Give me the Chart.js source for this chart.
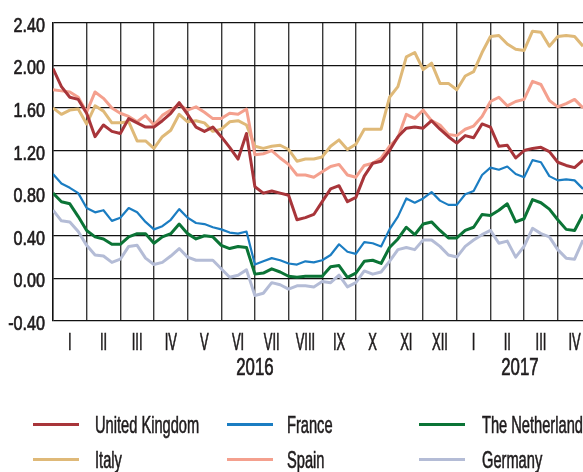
<!DOCTYPE html>
<html>
<head>
<meta charset="utf-8">
<script src="https://cdn.jsdelivr.net/npm/chart.js@4.4.1/dist/chart.umd.min.js"></script>
<style>
  html, body { margin: 0; padding: 0; background: #fff; overflow: hidden; }
  #wrap { position: relative; width: 583px; height: 472px; }
  #legend { position: absolute; left: 0; top: 0; width: 583px; height: 472px; pointer-events: none;
            font-family: "Liberation Sans", Arial, sans-serif; color: #1e1b1c; }
  .swatch { position: absolute; height: 3px; width: 46px; }
  .lbl { position: absolute; font-size: 24px; line-height: 24px; white-space: nowrap;
         -webkit-text-stroke: 0.6px #1e1b1c;
         transform: scaleX(0.61); transform-origin: left top; }
</style>
</head>
<body>
<div id="wrap">
  <canvas id="chart" width="583" height="472"></canvas>
  <div id="legend"></div>
</div>
<script>
// 坐标轴标签
const MONTHS = ['I', 'II', 'III', 'IV', 'V', 'VI', 'VII', 'VIII', 'IX', 'X', 'XI', 'XII', 'I', 'II', 'III', 'IV'];
const YEARS = ['2016', '2017'];
const Y_TICKS = [-0.4, 0, 0.4, 0.8, 1.2, 1.6, 2.0, 2.4];

// 每 1/4 个月取一个点（从 2016 年 1 月初开始）
const UK = [1.97, 1.80, 1.70, 1.68, 1.55, 1.33, 1.44, 1.38, 1.36, 1.50, 1.46, 1.42, 1.42, 1.48, 1.55, 1.65,
            1.54, 1.42, 1.38, 1.42, 1.33, 1.23, 1.12, 1.36, 0.86, 0.80, 0.82, 0.80, 0.78, 0.55, 0.57, 0.60,
            0.72, 0.84, 0.87, 0.72, 0.76, 0.96, 1.08, 1.10, 1.20, 1.33, 1.41, 1.42, 1.41, 1.48, 1.40, 1.33,
            1.27, 1.34, 1.32, 1.45, 1.42, 1.24, 1.25, 1.13, 1.20, 1.22, 1.23, 1.19, 1.09, 1.06, 1.04, 1.11];
const FRANCE = [0.98, 0.89, 0.85, 0.80, 0.66, 0.62, 0.64, 0.54, 0.57, 0.66, 0.62, 0.53, 0.46, 0.49, 0.55, 0.65,
                0.57, 0.52, 0.51, 0.48, 0.46, 0.43, 0.42, 0.44, 0.13, 0.16, 0.19, 0.17, 0.14, 0.13, 0.16, 0.15,
                0.17, 0.22, 0.32, 0.25, 0.23, 0.34, 0.33, 0.30, 0.46, 0.58, 0.75, 0.71, 0.75, 0.81, 0.73, 0.69,
                0.69, 0.79, 0.82, 0.97, 1.04, 1.02, 1.05, 0.98, 0.95, 1.11, 1.09, 0.96, 0.92, 0.93, 0.92, 0.84];
const NETHERLANDS = [0.80, 0.72, 0.70, 0.58, 0.45, 0.39, 0.37, 0.32, 0.32, 0.39, 0.42, 0.42, 0.33, 0.39, 0.42, 0.51,
                     0.42, 0.37, 0.40, 0.39, 0.31, 0.28, 0.30, 0.29, 0.04, 0.05, 0.09, 0.06, 0.02, 0.01, 0.02, 0.02,
                     0.02, 0.11, 0.12, 0.01, 0.05, 0.16, 0.17, 0.14, 0.29, 0.37, 0.48, 0.41, 0.51, 0.53, 0.45, 0.38,
                     0.38, 0.45, 0.48, 0.60, 0.59, 0.64, 0.70, 0.53, 0.56, 0.74, 0.71, 0.65, 0.55, 0.46, 0.45, 0.60];
const ITALY = [1.60, 1.54, 1.58, 1.59, 1.45, 1.62, 1.57, 1.46, 1.46, 1.47, 1.29, 1.29, 1.22, 1.33, 1.39, 1.54,
               1.47, 1.48, 1.46, 1.38, 1.40, 1.47, 1.48, 1.44, 1.24, 1.22, 1.24, 1.25, 1.21, 1.10, 1.12, 1.12,
               1.14, 1.24, 1.30, 1.21, 1.26, 1.40, 1.40, 1.40, 1.70, 1.80, 2.08, 2.12, 1.96, 2.02, 1.83, 1.83,
               1.77, 1.90, 1.94, 2.12, 2.27, 2.28, 2.20, 2.15, 2.14, 2.32, 2.31, 2.18, 2.27, 2.28, 2.27, 2.18];
const SPAIN = [1.77, 1.76, 1.75, 1.70, 1.56, 1.75, 1.69, 1.60, 1.55, 1.52, 1.47, 1.53, 1.44, 1.53, 1.58, 1.63,
               1.58, 1.61, 1.56, 1.50, 1.50, 1.55, 1.54, 1.59, 1.16, 1.17, 1.20, 1.13, 1.07, 0.97, 0.97, 0.95,
               1.00, 1.05, 1.07, 0.97, 0.95, 1.06, 1.08, 1.13, 1.24, 1.32, 1.54, 1.50, 1.58, 1.48, 1.44, 1.35,
               1.34, 1.40, 1.43, 1.52, 1.66, 1.70, 1.62, 1.66, 1.68, 1.85, 1.82, 1.67, 1.61, 1.64, 1.68, 1.60];
const GERMANY = [0.64, 0.54, 0.53, 0.44, 0.31, 0.22, 0.21, 0.15, 0.18, 0.30, 0.31, 0.19, 0.13, 0.15, 0.21, 0.28,
                 0.20, 0.17, 0.17, 0.17, 0.09, 0.01, 0.03, 0.08, -0.16, -0.14, -0.04, -0.06, -0.10, -0.07, -0.07, -0.08,
                 -0.03, -0.04, 0.03, -0.08, -0.04, 0.07, 0.04, 0.06, 0.16, 0.27, 0.29, 0.27, 0.36, 0.36, 0.30, 0.22,
                 0.20, 0.30, 0.36, 0.41, 0.45, 0.33, 0.35, 0.20, 0.30, 0.47, 0.42, 0.39, 0.27, 0.19, 0.18, 0.36];

const STEP = 0.25; // 横轴单位：月
const X_MAX = (UK.length - 1) * STEP;
const TEXT = '#1e1b1c';
const FONT = '"Liberation Sans", Arial, sans-serif';

// 图例顺序 = 数据集顺序；order 决定叠放（数值小的在上面）
const SERIES = [
  { label: 'United Kingdom', data: UK, color: '#a8353a', width: 3, order: 0 },
  { label: 'France', data: FRANCE, color: '#1b7dc2', width: 2.2, order: 3 },
  { label: 'The Netherland', data: NETHERLANDS, color: '#0b7436', width: 3, order: 4 },
  { label: 'Italy', data: ITALY, color: '#dfb978', width: 3, order: 2 },
  { label: 'Spain', data: SPAIN, color: '#f4a08e', width: 3, order: 1 },
  { label: 'Germany', data: GERMANY, color: '#b4bcd6', width: 3, order: 5 }
];

// 压窄的文字（原图是窄体字），描一点边让笔画粗一些
function drawNarrow(ctx, text, px, py, sx) {
  ctx.save();
  ctx.translate(px, py);
  ctx.scale(sx, 1);
  ctx.fillText(text, 0, 0);
  ctx.strokeText(text, 0, 0);
  ctx.restore();
}

const axisText = {
  id: 'axisText',
  afterDraw(chart) {
    const { ctx, chartArea } = chart;
    const x = chart.scales.x, y = chart.scales.y;
    ctx.save();
    ctx.fillStyle = TEXT;
    ctx.strokeStyle = TEXT;
    ctx.lineWidth = 0.7;
    ctx.textBaseline = 'alphabetic';

    ctx.font = '21px ' + FONT;
    ctx.textAlign = 'right';
    Y_TICKS.forEach(v => drawNarrow(ctx, v.toFixed(2), chartArea.left - 8, y.getPixelForValue(v) + 9, 0.77));

    ctx.font = '24px ' + FONT;
    ctx.textAlign = 'center';
    MONTHS.forEach((m, i) => drawNarrow(ctx, m, x.getPixelForValue(i + 0.5), chartArea.bottom + 28.7, 0.54));

    YEARS.forEach((yr, j) => {
      const mid = (j * 12 + Math.min((j + 1) * 12, X_MAX)) / 2;
      drawNarrow(ctx, yr, x.getPixelForValue(mid), chartArea.bottom + 53.7, 0.70);
    });
    ctx.restore();
  }
};

new Chart(document.getElementById('chart'), {
  type: 'line',
  data: {
    datasets: SERIES.map(s => ({
      label: s.label,
      data: s.data.map((v, i) => ({ x: i * STEP, y: v })),
      borderColor: s.color,
      borderWidth: s.width,
      pointRadius: 0,
      tension: 0,
      fill: false,
      order: s.order,
      borderJoinStyle: 'round'
    }))
  },
  options: {
    responsive: false,
    devicePixelRatio: 1,
    animation: false,
    layout: { padding: { top: 22.7, left: 0, right: 0, bottom: 0 } },
    plugins: { legend: { display: false }, tooltip: { enabled: false } },
    scales: {
      x: {
        type: 'linear',
        min: 0,
        max: X_MAX,
        afterBuildTicks: s => { s.ticks = MONTHS.map((_, i) => ({ value: i })); },
        afterFit: s => { s.height = 151; },
        ticks: { display: false },
        grid: { color: '#3a3a3a', lineWidth: 1.4, drawTicks: false },
        border: { display: false }
      },
      y: {
        min: -0.4,
        max: 2.4,
        afterBuildTicks: s => { s.ticks = Y_TICKS.map(v => ({ value: v })); },
        afterFit: s => { s.width = 53; },
        ticks: { display: false },
        grid: { color: '#111111', lineWidth: 1.2, drawTicks: false },
        border: { display: true, color: '#111111', width: 1.4 }
      }
    }
  },
  plugins: [axisText]
});

// 图例：两行三列
const legend = document.getElementById('legend');
const SWATCH_X = [33, 227, 419], TEXT_X = [95, 287, 482];
const ROW_Y = [424.5, 459.5];
SERIES.forEach((s, i) => {
  const col = i % 3, row = Math.floor(i / 3);
  const sw = document.createElement('div');
  sw.className = 'swatch';
  sw.style.left = SWATCH_X[col] + 'px';
  sw.style.top = (ROW_Y[row] - 1.5) + 'px';
  sw.style.background = s.color;
  legend.appendChild(sw);
  const t = document.createElement('div');
  t.className = 'lbl';
  t.style.left = TEXT_X[col] + 'px';
  t.style.top = (ROW_Y[row] - 11.5) + 'px';
  t.textContent = s.label;
  legend.appendChild(t);
});
</script>
</body>
</html>
